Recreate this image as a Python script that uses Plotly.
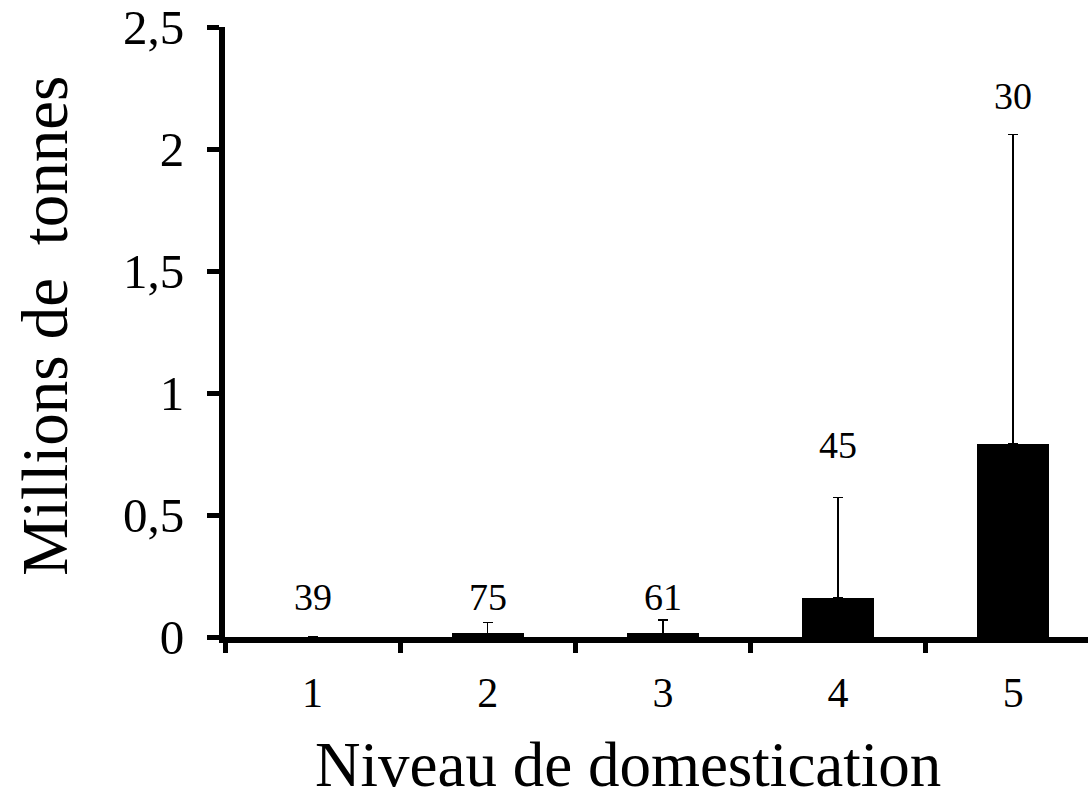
import plotly.graph_objects as go

categories = ["1", "2", "3", "4", "5"]
means = [0.0, 0.015, 0.015, 0.159, 0.79]
err_plus = [None, 0.045, 0.055, 0.412, 1.27]
counts = ["39", "75", "61", "45", "30"]
count_y = [0.165, 0.165, 0.165, 0.787, 2.216]
y_ticks = [0, 0.5, 1, 1.5, 2, 2.5]
y_ticktext = ["0", "0,5", "1", "1,5", "2", "2,5"]

FONT = "Liberation Serif, Times New Roman, serif"

fig = go.Figure()
fig.add_trace(go.Bar(
    x=categories, y=means, width=0.41,
    marker=dict(color="black", line=dict(width=0)),
    error_y=dict(type="data", symmetric=False, array=err_plus,
                 arrayminus=[0]*len(err_plus), color="black",
                 thickness=1.5, width=5),
    showlegend=False,
))

for i, (t, yy) in enumerate(zip(counts, count_y)):
    fig.add_annotation(x=i, y=yy, text=t, showarrow=False,
                       font=dict(family=FONT, size=38, color="black"),
                       xanchor="center", yanchor="middle")

fig.add_annotation(xref="paper", yref="paper", x=(628-225)/863, y=-(163.5)/612.5,
                   text="Niveau de domestication", showarrow=False,
                   font=dict(family=FONT, size=63, color="black"),
                   xanchor="center", yanchor="bottom", yshift=-2)
fig.add_annotation(xref="paper", yref="paper", x=-(225-45)/863, y=(637.5-325)/612.5,
                   text="Millions de\u00a0\u00a0tonnes", showarrow=False, textangle=-90,
                   font=dict(family=FONT, size=65, color="black"),
                   xanchor="center", yanchor="middle")

fig.update_layout(
    width=1088, height=801,
    margin=dict(l=225, r=0, t=25, b=163.5),
    paper_bgcolor="white", plot_bgcolor="white",
    font=dict(family=FONT, color="black"),
    bargap=0,
)
fig.update_xaxes(
    type="category", range=[-0.5, 4.427],
    showline=True, linecolor="black", linewidth=6,
    ticks="outside", tickson="boundaries", ticklen=10, tickwidth=5, tickcolor="black",
    tickfont=dict(family=FONT, size=42, color="black"),
    ticklabelstandoff=14,
    showgrid=False, zeroline=False,
)
fig.update_yaxes(
    range=[0, 2.5], tickvals=y_ticks, ticktext=y_ticktext,
    showline=True, linecolor="black", linewidth=6,
    ticks="outside", ticklen=12, tickwidth=5, tickcolor="black",
    tickfont=dict(family=FONT, size=49, color="black"),
    ticklabelstandoff=13, ticklabeloverflow="allow",
    showgrid=False, zeroline=False,
)

fig.write_html("out.html", config={"displayModeBar": False},
               post_script="document.body.style.margin='0';document.body.style.overflow='hidden';")
